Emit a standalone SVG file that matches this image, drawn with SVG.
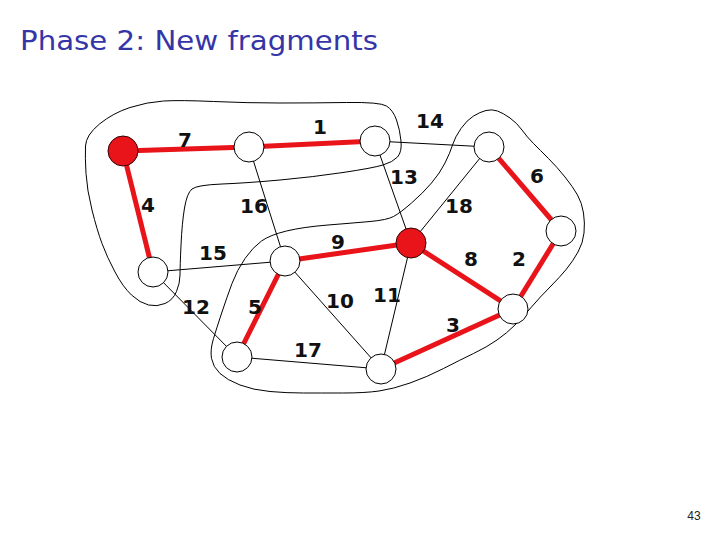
<svg xmlns="http://www.w3.org/2000/svg" width="720" height="540" viewBox="0 0 720 540">
<style>
.thin{stroke:#000;stroke-width:1;fill:none}
.red{stroke:#e8141a;stroke-width:5;fill:none}
.frag{stroke:#000;stroke-width:1;fill:none}
.node{fill:#fff;stroke:#000;stroke-width:1}
.rnode{fill:#e8141a;stroke:#300;stroke-width:1}
.lbl{font-family:"DejaVu Sans",sans-serif;font-weight:bold;font-size:20px;fill:#111;text-anchor:middle}
.title{font-family:"DejaVu Sans",sans-serif;font-size:27px;fill:#3535a8}
.pg{font-family:"Liberation Sans",sans-serif;font-size:12px;fill:#222}
</style>
<rect width="720" height="540" fill="#fff"/>
<text class="title" x="20" y="50" textLength="358" lengthAdjust="spacingAndGlyphs">Phase 2: New fragments</text>
<g id="fragments">
<path class="frag" d="M85.5,146 Q86,135 99.5,124 Q113,113 130,107.5 Q147,102 163.5,101 Q180,100 213.5,101.5 Q247,103 280,103 Q313,103 346.5,102.5 Q380,102 386.5,106 Q393,110 396.5,120 Q400,130 401,141 Q402,152 397.5,157 Q393,162 383,165 Q373,168 343,172.5 Q313,177 280,180 Q247,183 222,184 Q197,185 192,189 Q187,193 184.5,208 Q182,223 181,245 Q180,267 180,275 Q180,283 176.5,291.5 Q173,300 165,303.5 Q157,307 148.5,305 Q140,303 131.5,295 Q123,287 115,272 Q107,257 102,243.5 Q97,230 92,210 Q87,190 86,173.5 Q85,157 85.5,146 Z"/>
<path class="frag" d="M261.5,241 Q270,235 286.5,231 Q303,227 328,225 Q353,223 370,221.5 Q387,220 393.5,216.5 Q400,213 411.5,203 Q423,193 431.5,183 Q440,173 445,163 Q450,153 452.5,145 Q455,137 461,128.5 Q467,120 473.5,116 Q480,112 486,110.5 Q492,109 497.5,111 Q503,113 510,118 Q517,123 522,130 Q527,137 533.5,143.5 Q540,150 548.5,158.5 Q557,167 565,177 Q573,187 577.5,195 Q582,203 583.5,213 Q585,223 584,233 Q583,243 578,252 Q573,261 566.5,269 Q560,277 550,287 Q540,297 531.5,307 Q523,317 515,325 Q507,333 497,340 Q487,347 473.5,353.5 Q460,360 443.5,368.5 Q427,377 410,383 Q393,389 379,391 Q365,393 342.5,393 Q320,393 303.5,393 Q287,393 270,391.5 Q253,390 240,385 Q227,380 220,373.5 Q213,367 211.5,358.5 Q210,350 213.5,338.5 Q217,327 222,312 Q227,297 232,283.5 Q237,270 245,258.5 Q253,247 261.5,241 Z"/>
</g>
<g id="connectors">
<line class="thin" x1="375" y1="141" x2="489" y2="147"/>
<line class="thin" x1="375" y1="141" x2="411" y2="243"/>
<line class="thin" x1="249" y1="147" x2="285" y2="261"/>
<line class="thin" x1="153" y1="272" x2="285" y2="261"/>
<line class="thin" x1="153" y1="272" x2="237" y2="357"/>
<line class="thin" x1="285" y1="261" x2="381" y2="369"/>
<line class="thin" x1="237" y1="357" x2="381" y2="369"/>
<line class="thin" x1="411" y1="243" x2="381" y2="369"/>
<line class="thin" x1="489" y1="147" x2="411" y2="243"/>
<line class="red" x1="123" y1="151" x2="249" y2="147"/>
<line class="red" x1="249" y1="147" x2="375" y2="141"/>
<line class="red" x1="123" y1="151" x2="153" y2="272"/>
<line class="red" x1="285" y1="261" x2="411" y2="243"/>
<line class="red" x1="285" y1="261" x2="237" y2="357"/>
<line class="red" x1="411" y1="243" x2="513" y2="309"/>
<line class="red" x1="381" y1="369" x2="513" y2="309"/>
<line class="red" x1="513" y1="309" x2="561" y2="231"/>
<line class="red" x1="489" y1="147" x2="561" y2="231"/>
</g>
<g id="nA"><circle class="rnode" cx="123" cy="151" r="15"/></g>
<g id="nB"><circle class="node" cx="249" cy="147" r="15"/></g>
<g id="nC"><circle class="node" cx="375" cy="141" r="15"/></g>
<g id="nD"><circle class="node" cx="489" cy="147" r="15"/></g>
<g id="nE"><circle class="node" cx="561" cy="231" r="15"/></g>
<g id="nF"><circle class="rnode" cx="411" cy="243" r="15"/></g>
<g id="nG"><circle class="node" cx="285" cy="261" r="15"/></g>
<g id="nH"><circle class="node" cx="153" cy="272" r="15"/></g>
<g id="nI"><circle class="node" cx="237" cy="357" r="15"/></g>
<g id="nJ"><circle class="node" cx="381" cy="369" r="15"/></g>
<g id="nK"><circle class="node" cx="513" cy="309" r="15"/></g>
<g id="labels">
<text class="lbl" x="185" y="147">7</text>
<text class="lbl" x="320" y="134">1</text>
<text class="lbl" x="430" y="128">14</text>
<text class="lbl" x="404" y="184">13</text>
<text class="lbl" x="537" y="183">6</text>
<text class="lbl" x="148" y="212">4</text>
<text class="lbl" x="254" y="213">16</text>
<text class="lbl" x="459" y="213">18</text>
<text class="lbl" x="338" y="248.5">9</text>
<text class="lbl" x="213" y="260">15</text>
<text class="lbl" x="471" y="266">8</text>
<text class="lbl" x="519" y="266">2</text>
<text class="lbl" x="196" y="313.5">12</text>
<text class="lbl" x="255" y="314">5</text>
<text class="lbl" x="340" y="307.5">10</text>
<text class="lbl" x="387" y="302">11</text>
<text class="lbl" x="453" y="332">3</text>
<text class="lbl" x="308" y="357">17</text>
</g>
<text class="pg" x="694" y="520" text-anchor="middle">43</text>
</svg>
